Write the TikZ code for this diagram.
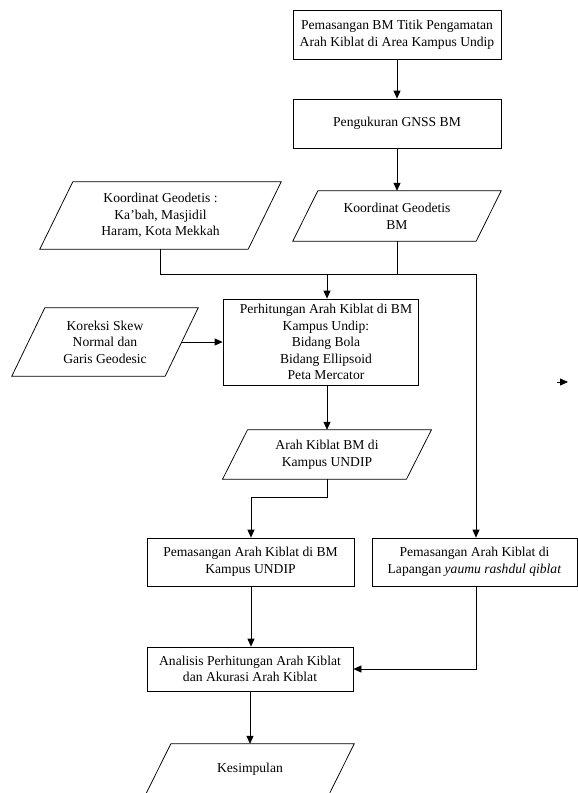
\documentclass[tikz,border=0pt]{standalone}
\usepackage{fontspec}
\setmainfont{Liberation Serif}
\usetikzlibrary{arrows.meta,calc}
\tikzset{
  box/.style={draw=black, line width=0.75pt, align=center, inner sep=0pt, font=\fontsize{13.6}{16.6}\selectfont},
  plain/.style={align=center, inner sep=0pt, font=\fontsize{13.6}{16.6}\selectfont},
  arr/.style={-{Triangle[length=8pt,width=7pt]}, line width=0.75pt},
  ln/.style={line width=0.75pt}
}
\newcommand\drawpara[2]{\draw[ln] ([xshift=#2/2]#1.north west) -- ([xshift=#2/2]#1.north east) -- ([xshift=-#2/2]#1.south east) -- ([xshift=-#2/2]#1.south west) -- cycle;}
\begin{document}
\begin{tikzpicture}[x=1pt,y=-1pt]
\useasboundingbox (0,0) rectangle (578,793);
\clip (0,0) rectangle (578,793);
% process boxes
\node[box, minimum width=208, minimum height=49] (b1) at (397,34.5) {Pemasangan BM Titik Pengamatan\\Arah Kiblat di Area Kampus Undip};
\node[box, minimum width=208, minimum height=49] (b2) at (397,123.5) {Pengukuran GNSS BM};
\node[box, minimum width=195, minimum height=86] (ph) at (320.5,342) {};
\node[plain] (phtext) at (326,342) {Perhitungan Arah Kiblat di BM\\Kampus Undip:\\Bidang Bola\\Bidang Ellipsoid\\Peta Mercator};
\node[box, minimum width=207, minimum height=48] (pk) at (250.5,562) {Pemasangan Arah Kiblat di BM\\Kampus UNDIP};
\node[box, minimum width=205, minimum height=48] (pl) at (474.5,562) {Pemasangan Arah Kiblat di\\Lapangan \textit{yaumu rashdul qiblat}};
\node[box, minimum width=206, minimum height=44] (an) at (250,669) {Analisis Perhitungan Arah Kiblat\\dan Akurasi Arah Kiblat};
% data (parallelograms)
\node[plain, minimum width=183, minimum height=50] (pBM) at (397,216) {Koordinat Geodetis\\BM};
\drawpara{pBM}{25}
\node[plain, minimum width=208, minimum height=67] (kb) at (160.5,215.5) {Koordinat Geodetis :\\Ka’bah, Masjidil\\Haram, Kota Mekkah};
\drawpara{kb}{33}
\node[plain, minimum width=153, minimum height=68] (ks) at (105,342) {Koreksi Skew\\Normal dan\\Garis Geodesic};
\drawpara{ks}{33}
\node[plain, minimum width=183.5, minimum height=49] (ar) at (327,454.5) {Arah Kiblat BM di\\Kampus UNDIP};
\drawpara{ar}{25}
\node[plain, minimum width=183, minimum height=50] (ke) at (250,769) {Kesimpulan};
\drawpara{ke}{25}
% junctions
\coordinate (jA) at (327,274);
\coordinate (jR) at (476,274);
\coordinate (jB) at (251,497);
\coordinate (s1) at (557,382);
\coordinate (s2) at (568,382);
% connectors
\draw[arr] (b1) -- (b2);
\draw[arr] (b2) -- (pBM);
\draw[ln] (kb.south) |- (jR);
\draw[ln] (pBM.south) -- (pBM.south |- jR);
\draw[arr] (jA) -- (jA |- ph.north);
\draw[arr] (jR) -- (jR |- pl.north);
\draw[arr] (ks.east) -- (ph.west);
\draw[arr] (ph.south -| jA) -- (ar.north);
\draw[arr] (ar.south) |- (jB) -- (jB |- pk.north);
\draw[arr] (pk.south -| jB) -- (an.north -| jB);
\draw[arr] (pl.south -| jR) |- (an.east);
\draw[arr] (an.south) -- (ke.north);
\draw[arr] (s1) -- (s2);
\end{tikzpicture}
\end{document}
